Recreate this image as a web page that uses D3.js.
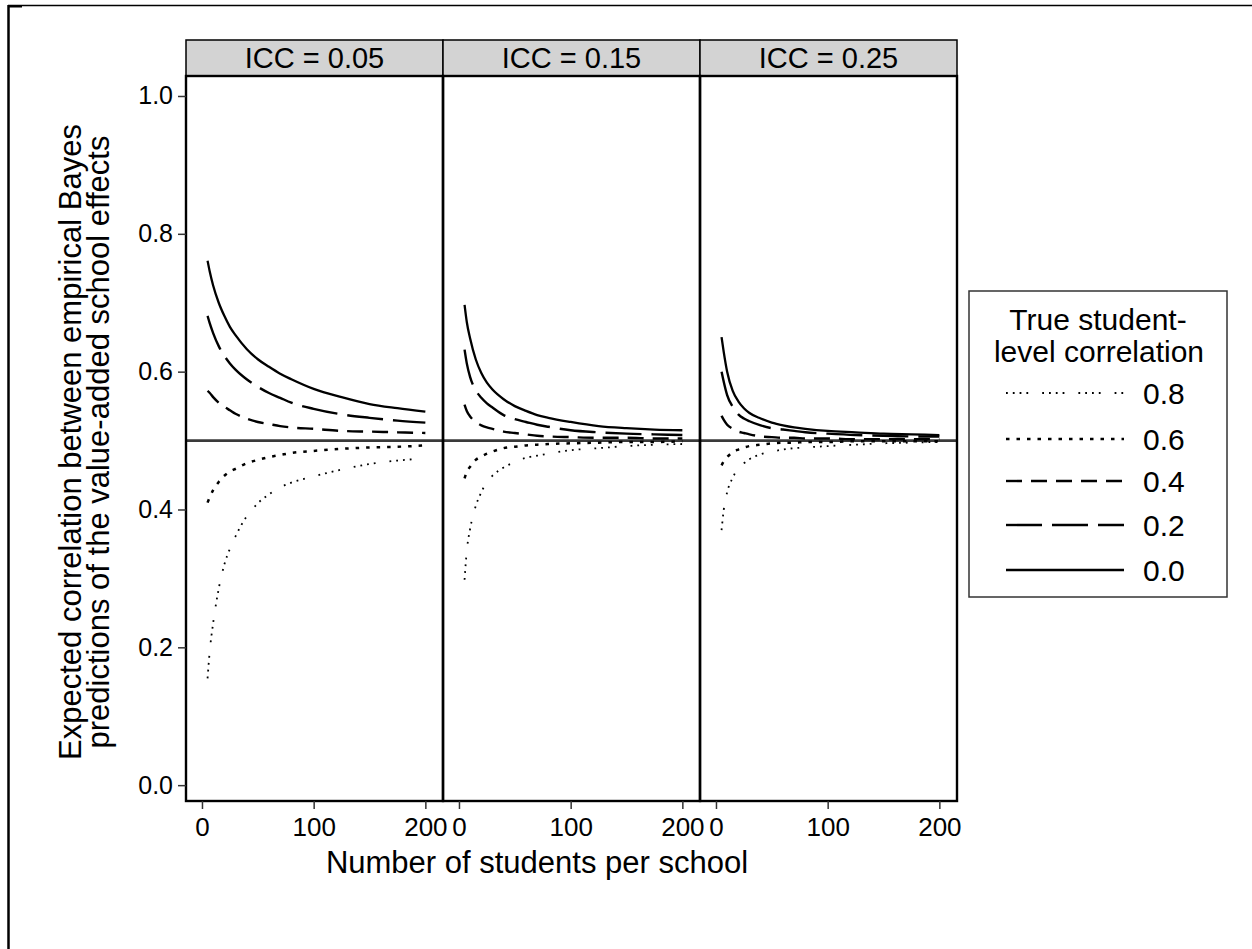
<!DOCTYPE html>
<html>
<head>
<meta charset="utf-8">
<script src="https://cdn.jsdelivr.net/npm/d3@7"></script>
<style>
  html, body { margin: 0; padding: 0; background: #fff; }
  svg { display: block; }
  text { font-family: Arial, "Liberation Sans", sans-serif; fill: #000; }
</style>
</head>
<body>
<div id="chart"></div>
<script>
// ---------------- DATA ----------------
const panels = ["ICC = 0.05", "ICC = 0.15", "ICC = 0.25"];
const correlations = ["0.8", "0.6", "0.4", "0.2", "0.0"];
const nStudents = [5, 7, 10, 15, 20, 25, 30, 40, 50, 60, 70, 80, 100, 125, 150, 175, 200];
const xTicks = [0, 100, 200];
const yTicks = [0.0, 0.2, 0.4, 0.6, 0.8, 1.0];

// ICC = 0.05
const icc05_r00 = [0.761, 0.745, 0.725, 0.700, 0.681, 0.665, 0.653, 0.633, 0.618, 0.607, 0.597, 0.589, 0.575, 0.563, 0.553, 0.547, 0.542];
const icc05_r02 = [0.681, 0.670, 0.656, 0.637, 0.623, 0.612, 0.603, 0.589, 0.578, 0.569, 0.562, 0.555, 0.546, 0.538, 0.533, 0.529, 0.526];
const icc05_r04 = [0.572, 0.569, 0.563, 0.555, 0.549, 0.544, 0.539, 0.532, 0.527, 0.524, 0.521, 0.519, 0.517, 0.514, 0.513, 0.512, 0.511];
const icc05_r06 = [0.410, 0.418, 0.428, 0.440, 0.449, 0.455, 0.459, 0.467, 0.472, 0.476, 0.479, 0.482, 0.485, 0.488, 0.490, 0.491, 0.493];
const icc05_r08 = [0.155, 0.195, 0.235, 0.285, 0.320, 0.343, 0.361, 0.390, 0.409, 0.422, 0.432, 0.439, 0.448, 0.458, 0.466, 0.471, 0.474];

// ICC = 0.15
const icc15_r00 = [0.697, 0.672, 0.648, 0.618, 0.598, 0.584, 0.574, 0.560, 0.550, 0.543, 0.537, 0.533, 0.527, 0.521, 0.518, 0.516, 0.515];
const icc15_r02 = [0.632, 0.612, 0.592, 0.573, 0.562, 0.554, 0.548, 0.537, 0.531, 0.527, 0.523, 0.520, 0.515, 0.512, 0.510, 0.509, 0.508];
const icc15_r04 = [0.552, 0.543, 0.535, 0.527, 0.522, 0.519, 0.517, 0.513, 0.511, 0.509, 0.507, 0.506, 0.505, 0.504, 0.504, 0.503, 0.503];
const icc15_r06 = [0.445, 0.455, 0.462, 0.472, 0.477, 0.481, 0.484, 0.489, 0.491, 0.493, 0.494, 0.495, 0.496, 0.497, 0.498, 0.498, 0.499];
const icc15_r08 = [0.298, 0.340, 0.372, 0.405, 0.425, 0.440, 0.449, 0.461, 0.469, 0.475, 0.478, 0.481, 0.486, 0.489, 0.492, 0.494, 0.495];

// ICC = 0.25
const icc25_r00 = [0.650, 0.628, 0.600, 0.572, 0.557, 0.547, 0.540, 0.532, 0.526, 0.522, 0.519, 0.517, 0.514, 0.512, 0.510, 0.509, 0.508];
const icc25_r02 = [0.600, 0.585, 0.566, 0.549, 0.538, 0.532, 0.528, 0.522, 0.518, 0.516, 0.514, 0.512, 0.510, 0.508, 0.507, 0.506, 0.506];
const icc25_r04 = [0.536, 0.530, 0.523, 0.517, 0.513, 0.511, 0.509, 0.506, 0.505, 0.504, 0.504, 0.503, 0.503, 0.502, 0.502, 0.502, 0.502];
const icc25_r06 = [0.464, 0.470, 0.476, 0.483, 0.487, 0.490, 0.492, 0.494, 0.496, 0.497, 0.497, 0.498, 0.498, 0.499, 0.499, 0.499, 0.499];
const icc25_r08 = [0.370, 0.400, 0.425, 0.446, 0.460, 0.467, 0.473, 0.480, 0.484, 0.487, 0.489, 0.490, 0.492, 0.494, 0.496, 0.497, 0.498];

const referenceValue = 0.5;

// series per panel, in order of correlations
const panelSeries = [
  [icc05_r08, icc05_r06, icc05_r04, icc05_r02, icc05_r00],
  [icc15_r08, icc15_r06, icc15_r04, icc15_r02, icc15_r00],
  [icc25_r08, icc25_r06, icc25_r04, icc25_r02, icc25_r00]
];

// ---------------- STYLE ----------------
const dashes = {
  "0.8": "1.8 5 1.8 5 1.8 5 1.8 14",
  "0.6": "3.5 7",
  "0.4": "16 9",
  "0.2": "36 10",
  "0.0": null
};
const widths = { "0.8": 1.8, "0.6": 2.5, "0.4": 2.4, "0.2": 2.4, "0.0": 2.3 };
const FONT = "Arial, 'Liberation Sans', sans-serif";

const W = 1252, H = 949;
const svg = d3.select("#chart").append("svg").attr("width", W).attr("height", H);

// outer border (top and left)
svg.append("line").attr("x1", 8).attr("x2", W).attr("y1", 5.5).attr("y2", 5.5)
  .attr("stroke", "#000").attr("stroke-width", 1.5);
svg.append("line").attr("x1", 8.5).attr("x2", 8.5).attr("y1", 5).attr("y2", H)
  .attr("stroke", "#000").attr("stroke-width", 2.5);
svg.append("rect").attr("x", 8).attr("y", 5).attr("width", 14).attr("height", 2.5).attr("fill", "#000");

const left0 = 186, panelW = 257, plotTop = 76, plotBottom = 801, stripTop = 40;

const y = d3.scaleLinear().domain([-0.023, 1.029]).range([plotBottom, plotTop]);

const xScales = panels.map((p, i) =>
  d3.scaleLinear().domain([-14.3, 215.8]).range([left0 + i * panelW, left0 + (i + 1) * panelW]));

// strips
panels.forEach((p, i) => {
  const x0 = left0 + i * panelW;
  svg.append("rect").attr("x", x0).attr("y", stripTop).attr("width", panelW).attr("height", plotTop - stripTop)
    .attr("fill", "#d3d3d3").attr("stroke", "#000").attr("stroke-width", 1.5);
  svg.append("text").attr("x", x0 + panelW / 2).attr("y", (stripTop + plotTop) / 2)
    .attr("text-anchor", "middle").attr("dy", "0.36em").attr("font-size", 29).text(p);
});

// reference line
svg.append("line").attr("x1", left0).attr("x2", left0 + 3 * panelW)
  .attr("y1", y(referenceValue)).attr("y2", y(referenceValue))
  .attr("stroke", "#3a3a3a").attr("stroke-width", 2.8);

// series lines
const lineGen = (xs) => d3.line()
  .x((d, k) => xs(nStudents[k]))
  .y(d => y(d))
  .curve(d3.curveMonotoneX);

panelSeries.forEach((seriesList, i) => {
  const xs = xScales[i];
  seriesList.forEach((vals, j) => {
    const c = correlations[j];
    svg.append("path").datum(vals)
      .attr("d", lineGen(xs))
      .attr("fill", "none")
      .attr("stroke", "#000")
      .attr("stroke-width", widths[c])
      .attr("stroke-dasharray", dashes[c]);
  });
});

// panel borders
panels.forEach((p, i) => {
  const x0 = left0 + i * panelW;
  svg.append("rect").attr("x", x0).attr("y", plotTop).attr("width", panelW).attr("height", plotBottom - plotTop)
    .attr("fill", "none").attr("stroke", "#000").attr("stroke-width", 2.4);
});

// y axis
const yAxis = svg.append("g").attr("transform", `translate(${left0},0)`)
  .call(d3.axisLeft(y).tickValues(yTicks).tickFormat(d3.format(".1f")).tickSize(8).tickSizeOuter(0).tickPadding(5));
yAxis.select(".domain").remove();
yAxis.selectAll("line").attr("stroke", "#333").attr("stroke-width", 1.5);
yAxis.selectAll("text").attr("font-size", 25).attr("font-family", FONT);

// x axes
xScales.forEach((xs, i) => {
  const g = svg.append("g").attr("transform", `translate(0,${plotBottom})`)
    .call(d3.axisBottom(xs).tickValues(xTicks).tickFormat(d3.format("d")).tickSize(8).tickSizeOuter(0).tickPadding(9));
  g.select(".domain").remove();
  g.selectAll("line").attr("stroke", "#333").attr("stroke-width", 1.5);
  g.selectAll("text").attr("font-size", 26).attr("font-family", FONT);
});

// axis titles
svg.append("text").attr("x", 537).attr("y", 862).attr("text-anchor", "middle")
  .attr("dy", "0.35em").attr("font-size", 31).text("Number of students per school");

const yTitle = svg.append("g").attr("transform", "translate(0,442) rotate(-90)");
yTitle.append("text").attr("x", 0).attr("y", 70).attr("text-anchor", "middle").attr("dy", "0.35em")
  .attr("font-size", 31).text("Expected correlation between empirical Bayes");
yTitle.append("text").attr("x", 0).attr("y", 98).attr("text-anchor", "middle").attr("dy", "0.35em")
  .attr("font-size", 31).text("predictions of the value-added school effects");

// legend
const lg = svg.append("g");
lg.append("rect").attr("x", 969).attr("y", 291).attr("width", 258).attr("height", 306)
  .attr("fill", "#fff").attr("stroke", "#333").attr("stroke-width", 1.5);
lg.append("text").attr("x", 1098).attr("y", 330).attr("text-anchor", "middle").attr("font-size", 30).text("True student-");
lg.append("text").attr("x", 1099).attr("y", 362).attr("text-anchor", "middle").attr("font-size", 30).text("level correlation");
const legendY = [393, 439, 481, 525, 570];
correlations.forEach((c, j) => {
  lg.append("line").attr("x1", 1006).attr("x2", 1124).attr("y1", legendY[j]).attr("y2", legendY[j])
    .attr("stroke", "#000").attr("stroke-width", widths[c]).attr("stroke-dasharray", dashes[c]);
  lg.append("text").attr("x", 1143).attr("y", legendY[j]).attr("dy", "0.36em").attr("font-size", 30).text(c);
});
</script>
</body>
</html>
